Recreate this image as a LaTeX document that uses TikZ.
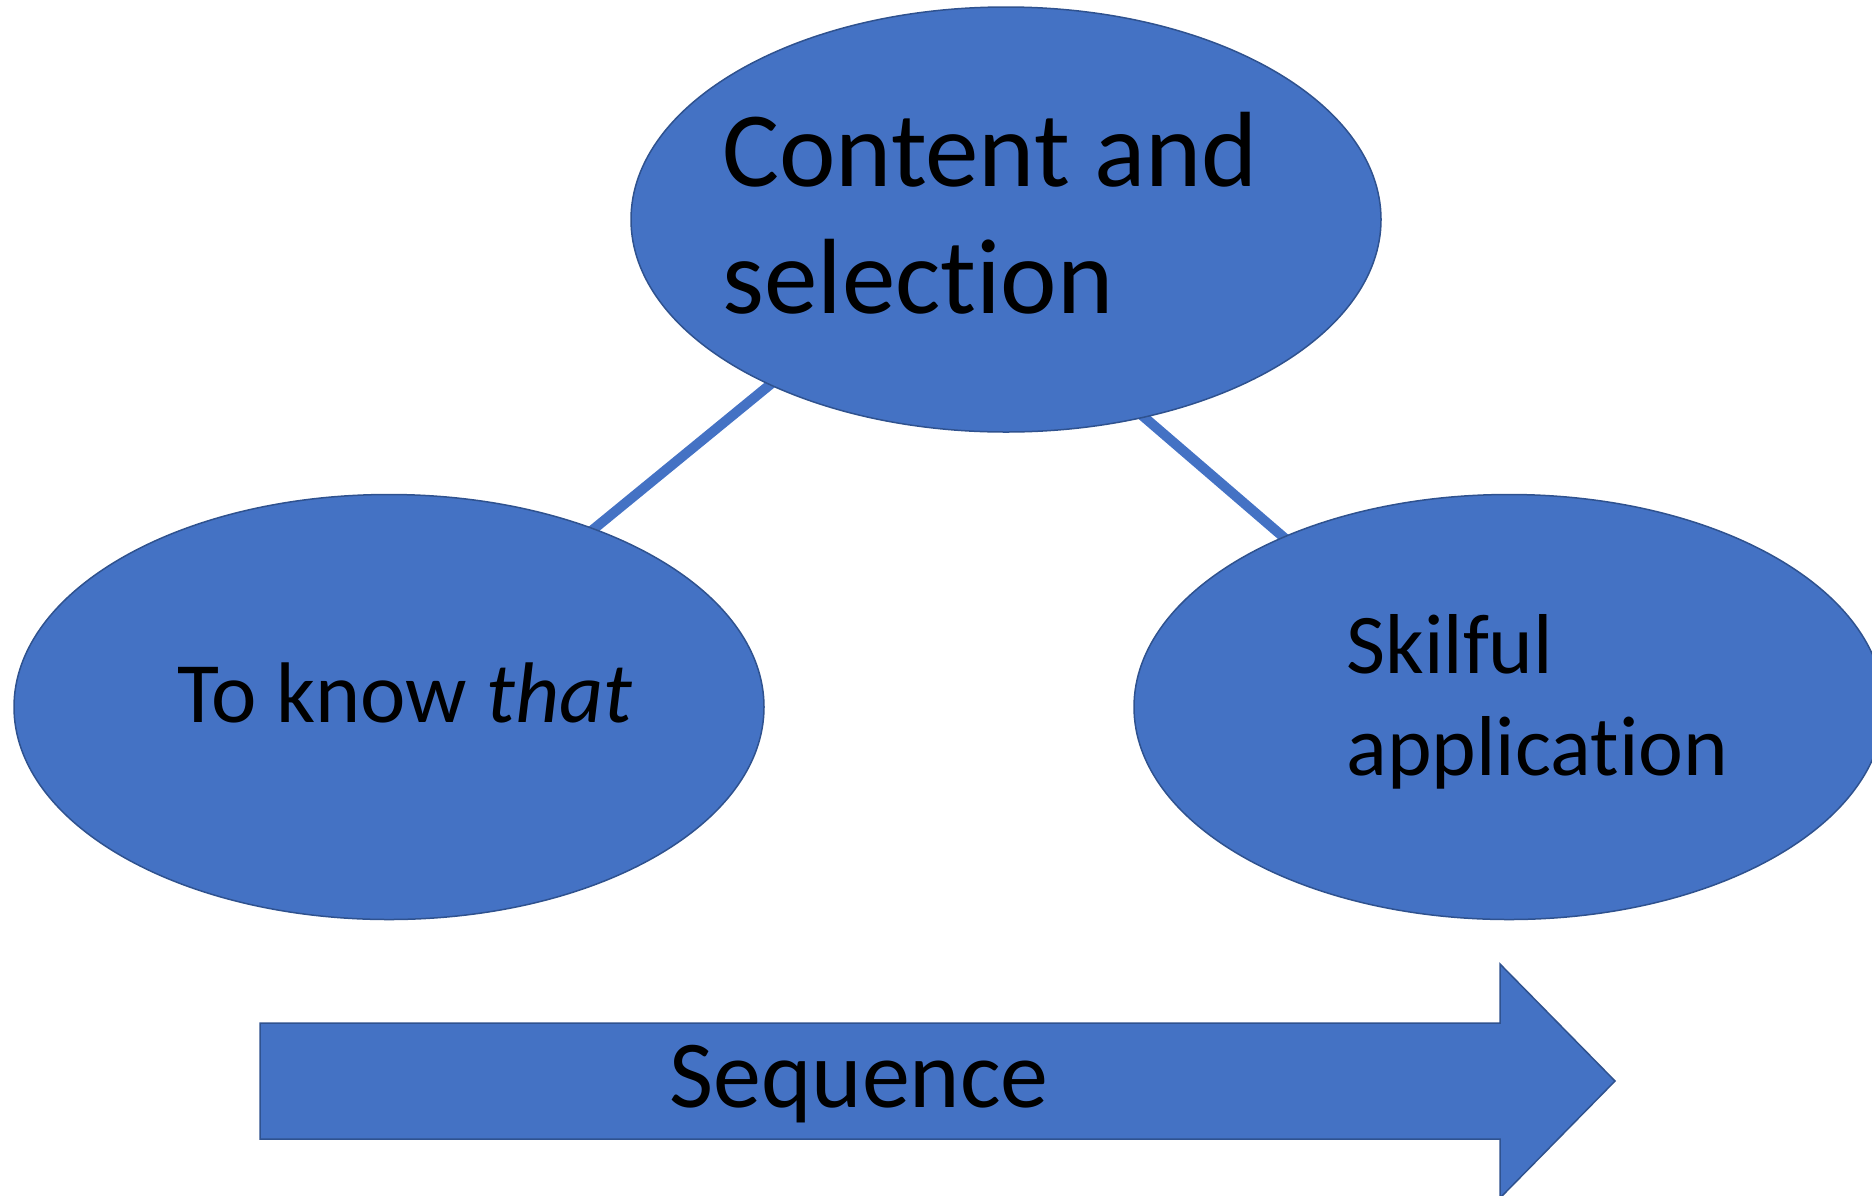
\documentclass[tikz,border=0pt]{standalone}
\usepackage{fontspec}
\setmainfont{Carlito}[Ligatures=NoCommon]
\usepackage{tikz}
\usetikzlibrary{shapes.geometric,positioning,backgrounds}
\definecolor{blobfill}{HTML}{4472C4}
\definecolor{blobedge}{HTML}{2F528F}

\begin{document}
\begin{tikzpicture}[x=0.5pt,y=-0.5pt,
                    main node/.style={ellipse,draw=blobedge,line width=0.75pt,fill=blobfill,
                                      minimum width=375pt,minimum height=212.5pt,inner sep=0pt},
                    label text/.style={inner sep=0pt,align=left,anchor=base west},
                    link/.style={draw=blobfill,line width=5pt,shorten <=-3pt,shorten >=-3pt}]

  \useasboundingbox (0,0) rectangle (1872,1195);
  \clip (0,0) rectangle (1872,1195);

  \node[main node] (top) at (1006,219.5) {};
  \node[main node] (left) at (389,707) {};
  \node[main node] (right) at (1509,707) {};

  % links go behind the ellipses
  \begin{pgfonlayer}{background}
    \draw[link] (top.215.7) -- (left.41.3);
    \draw[link] (top.305.8) -- (right.143.2);
  \end{pgfonlayer}

  % base anchor sits on the last line
  \node[label text,font=\fontsize{53.5}{63.5}\selectfont] (toptext) at (722,313) {Content and\\selection};
  \node[label text,font=\fontsize{43}{51}\selectfont] (lefttext) at (177,722) {To know \textit{that}};
  \node[label text,font=\fontsize{42.5}{51}\selectfont] (righttext) at (1346,775) {Skilful\\application};

  % the sequence arrow
  \draw[draw=blobedge,line width=0.75pt,fill=blobfill]
    (260,1023) -- (1500,1023) -- (1500,964) -- (1615,1081)
    -- (1500,1198) -- (1500,1139) -- (260,1139) -- cycle;
  \node[label text,font=\fontsize{48}{57}\selectfont] (seqtext) at (669,1107) {Sequence};
\end{tikzpicture}
\end{document}
